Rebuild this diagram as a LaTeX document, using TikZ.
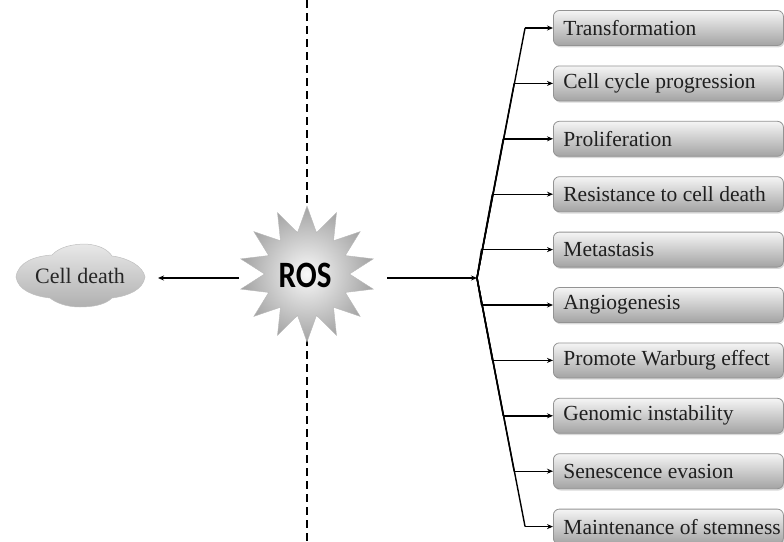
\documentclass[tikz,border=0pt]{standalone}
\usepackage{fontspec}
\setmainfont{Liberation Serif}
\newfontfamily\rosfont{Carlito}
\usetikzlibrary{shapes.geometric,arrows.meta,shadows}

\begin{document}
\begin{tikzpicture}[x=1pt,y=-1pt,
  link/.style={draw=black, line width=1.4pt},
  arr/.style={link, -{Stealth[length=6pt,width=5pt]}},
  effect/.style={draw=gray!85, line width=0.8pt, rounded corners=6pt,
    top color=gray!8, bottom color=gray!72,
    minimum height=35pt, inner xsep=10pt, anchor=west,
    font=\fontsize{21.5}{24}\selectfont, text=black!88,
    drop shadow={shadow xshift=1.2pt, shadow yshift=-1.8pt, opacity=0.3}},
  ]
  \useasboundingbox (0,0) rectangle (784,541);
  \clip (0,0) rectangle (784,541);

  % dividing line behind the ROS burst
  \coordinate (dtop) at (307,0);
  \coordinate (dbot) at (307,541);
  \draw[line width=1.2pt, dash pattern=on 8pt off 5pt] (dtop) -- (dbot);

  % central ROS burst
  \node[star, star points=14, star point ratio=1.6, minimum size=136pt, inner sep=0pt,
        inner color=gray!5, outer color=gray!72, draw=gray!55, line width=0.4pt] (ros) at (307,274) {};
  \node[font=\rosfont\bfseries\fontsize{31}{34}\selectfont, yscale=1.2] (rostext) at (305,275) {ROS};

  % cell death blob
  \path[top color=gray!18, bottom color=gray!62, draw=gray!50, line width=0.5pt]
    (16,277) .. controls (18,262) and (35,256) .. (52,255)
             .. controls (60,246) and (75,244) .. (86,244)
             .. controls (100,245) and (108,250) .. (112,256)
             .. controls (128,258) and (143,266) .. (145,277)
             .. controls (143,290) and (128,296) .. (112,298)
             .. controls (105,305) and (92,307) .. (80,307)
             .. controls (65,307) and (55,302) .. (50,298)
             .. controls (33,296) and (18,290) .. (16,277) -- cycle;
  \node[font=\fontsize{22}{24}\selectfont, text=black!85] (cd) at (80,276) {Cell death};

  \coordinate (rosleft) at (239,278);
  \coordinate (cdin) at (158,278);
  \coordinate (rosright) at (387,278);
  \coordinate (j) at (477,278);
  \draw[arr] (rosleft) -- (cdin);
  \draw[arr] (rosright) -- (j);

  % hallmark boxes with their branches
  \foreach \t [count=\i] in {Transformation, Cell cycle progression, Proliferation,
      Resistance to cell death, Metastasis, Angiogenesis, Promote Warburg effect,
      Genomic instability, Senescence evasion, Maintenance of stemness} {
    \pgfmathsetmacro\y{28+55.4*(\i-1)}
    \pgfmathsetmacro\bx{476+49*abs(277.3-\y)/249}
    \node[effect] (b\i) at (553,\y) {\makebox[210pt][l]{\t}};
    \coordinate (k\i) at (\bx,\y);
    \draw[link] (j) -- (k\i);
    \draw[arr] (k\i) -- (b\i.west);
  }
\end{tikzpicture}
\end{document}
